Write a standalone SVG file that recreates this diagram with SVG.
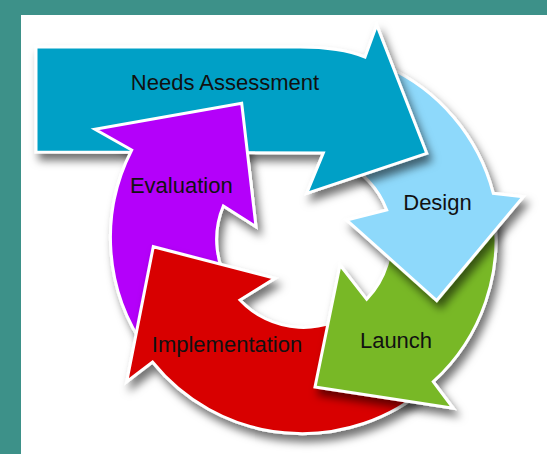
<svg xmlns="http://www.w3.org/2000/svg" width="547" height="454" viewBox="0 0 547 454">
<style>
.arw{stroke:#fff;stroke-width:3;stroke-linejoin:miter}
.lbl{font-family:"Liberation Sans",Arial,sans-serif;font-size:22px;fill:#111;text-anchor:middle}
</style>
<defs>
<filter id="sh" x="-20%" y="-20%" width="150%" height="150%">
<feDropShadow dx="4" dy="7" stdDeviation="4" flood-color="#000" flood-opacity="0.55"/>
</filter>
<clipPath id="topclip"><rect x="0" y="0" width="300" height="200"/></clipPath>
<path id="purplePath" d="M146.7,350.1 A192,192 0 0 1 131.7,150 L95,129.3 L241.7,103.3 L256,226.7 L223.3,206 A87,87 0 0 0 232.7,289.9 Z"/>
</defs>
<rect x="0" y="0" width="547" height="454" fill="#3d9189"/>
<rect x="21" y="15" width="526" height="439" fill="#fff"/>

<g id="evaluation-tail">
<use href="#purplePath" class="arw" fill="#b400fa" filter="url(#sh)"/>
</g>
<g id="implementation">
<path class="arw" fill="#d80000" filter="url(#sh)" d="M427.4,387.1 A192,192 0 0 1 152.5,362 L126.7,381.7 L153.3,246.7 L275,278.3 L240,300 A87,87 0 0 0 359.9,306.6 Z"/>
<text class="lbl" x="227" y="351.7">Implementation</text>
</g>
<g id="launch">
<path class="arw" fill="#78b828" filter="url(#sh)" d="M493.1,206.7 A192,192 0 0 1 433.3,381.7 L453.3,408.3 L315,387 L340,265 L366.7,299.3 A87,87 0 0 0 389.7,224.9 Z"/>
<text class="lbl" x="396" y="348.3">Launch</text>
</g>
<g id="design">
<path class="arw" fill="#8ed9fb" filter="url(#sh)" d="M385.1,66 A192,192 0 0 1 493.3,193.3 L523.3,196.7 L436.7,300.5 L346.7,220 L386.7,210 A87,87 0 0 0 340.8,161.2 Z"/>
<text class="lbl" x="437.5" y="210">Design</text>
</g>
<g id="needs-assessment">
<path class="arw" fill="#00a0c6" filter="url(#sh)" d="M36,47 L300,47 Q340,47 365,57 L376.7,25 L426.7,153.3 L306.7,193.3 L323.3,153 L36,152 Z"/>
<text class="lbl" x="225" y="89.5">Needs Assessment</text>
</g>
<g id="evaluation">
<g clip-path="url(#topclip)">
<use href="#purplePath" class="arw" fill="#b400fa"/>
</g>
<text class="lbl" x="181.3" y="193.3">Evaluation</text>
</g>
</svg>
